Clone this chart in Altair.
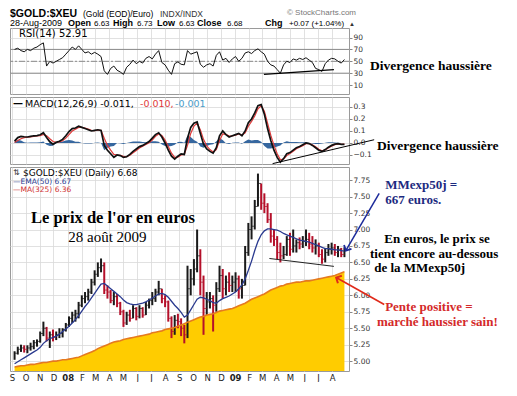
import altair as alt
import numpy as np
import pandas as pd

# ---------------- data (weekly readings) ----------------
weeks = pd.date_range("2007-09-07", "2009-08-28", freq="W-FRI")

price_high = [
    5.15, 5.22, 5.25, 5.24, 5.24, 5.28, 5.32, 5.33, 5.45, 5.60, 5.52, 5.45, 5.48, 5.45, 5.50, 5.50, 5.58,
    5.68, 5.75, 5.78, 5.90,
    6.00, 6.05, 6.10, 6.25, 6.38,
    6.50, 6.56, 6.50, 6.15,
    6.08, 6.05, 6.02, 5.90,
    5.78, 5.75, 5.78, 5.85, 5.82,
    5.85, 5.82, 5.90, 5.95,
    6.05, 6.10, 6.22, 6.10,
    6.00, 5.92, 5.68, 5.70, 5.72,
    5.65, 5.55, 6.45, 6.40,
    6.55, 7.00, 6.70, 6.30, 6.05,
    6.05, 6.00, 6.20, 6.45,
    6.40, 6.30, 6.35, 6.30,
    6.35, 6.30, 6.25, 6.75, 7.10,
    7.20, 7.45, 7.85, 7.70,
    7.55, 7.40, 7.25, 7.00,
    6.90, 6.80, 6.75, 6.90,
    6.95, 7.00, 6.85, 6.88, 6.90,
    7.00, 6.95, 6.90, 6.85,
    6.80, 6.70, 6.72, 6.78, 6.80,
    6.78, 6.75, 6.72, 6.73,
]
price_low = [
    5.02, 5.10, 5.14, 5.13, 5.12, 5.16, 5.18, 5.22, 5.28, 5.38, 5.30, 5.20, 5.30, 5.32, 5.35, 5.36, 5.45,
    5.52, 5.58, 5.60, 5.65,
    5.82, 5.88, 5.92, 6.02, 6.15,
    6.28, 6.35, 6.02, 5.95,
    5.88, 5.85, 5.82, 5.70,
    5.52, 5.55, 5.60, 5.65, 5.62,
    5.65, 5.66, 5.70, 5.80,
    5.85, 5.90, 6.00, 5.88,
    5.82, 5.60, 5.35, 5.40, 5.50,
    5.38, 5.27, 5.35, 6.00,
    6.15, 6.35, 6.00, 5.40, 5.70,
    5.80, 5.45, 5.75, 6.05,
    5.95, 6.00, 6.05, 6.05,
    6.05, 5.95, 5.95, 6.15, 6.60,
    6.85, 7.00, 7.35, 7.30,
    7.25, 7.10, 6.80, 6.75,
    6.55, 6.50, 6.55, 6.60,
    6.60, 6.65, 6.65, 6.70, 6.72,
    6.75, 6.70, 6.65, 6.62,
    6.58, 6.48, 6.50, 6.60, 6.62,
    6.60, 6.58, 6.58, 6.58,
]
price_close = [
    5.12, 5.18, 5.20, 5.18, 5.20, 5.22, 5.28, 5.30, 5.42, 5.50, 5.35, 5.40, 5.36, 5.40, 5.42, 5.48, 5.55,
    5.65, 5.70, 5.72, 5.85,
    5.95, 5.98, 6.05, 6.20, 6.32,
    6.42, 6.45, 6.08, 6.05,
    5.92, 5.98, 5.88, 5.75,
    5.58, 5.70, 5.65, 5.80, 5.68,
    5.80, 5.70, 5.85, 5.92,
    5.95, 6.05, 6.10, 5.95,
    5.90, 5.65, 5.45, 5.62, 5.60,
    5.50, 5.40, 6.10, 6.25,
    6.40, 6.60, 6.20, 5.80, 5.90,
    5.95, 5.85, 6.10, 6.30,
    6.10, 6.20, 6.15, 6.20,
    6.25, 6.10, 6.15, 6.65, 7.00,
    7.05, 7.35, 7.70, 7.40,
    7.35, 7.15, 6.90, 6.85,
    6.65, 6.60, 6.62, 6.85,
    6.70, 6.75, 6.80, 6.78, 6.82,
    6.85, 6.78, 6.72, 6.75,
    6.62, 6.55, 6.65, 6.70, 6.72,
    6.65, 6.70, 6.62, 6.68,
]
ema50 = [
    4.96, 4.99, 5.02, 5.05, 5.08, 5.11, 5.14, 5.17, 5.21, 5.27, 5.31, 5.34, 5.36, 5.38, 5.41, 5.45, 5.49,
    5.53, 5.58, 5.63, 5.69,
    5.76, 5.83, 5.89, 5.96, 6.03,
    6.10, 6.17, 6.18, 6.14,
    6.10, 6.06, 6.02, 5.98,
    5.93, 5.89, 5.87, 5.86, 5.86,
    5.87, 5.88, 5.90, 5.93,
    5.96, 5.99, 6.02, 6.03,
    6.01, 5.97, 5.91, 5.85, 5.80,
    5.74, 5.67, 5.70, 5.78,
    5.86, 5.94, 5.97, 5.96, 5.94,
    5.92, 5.89, 5.88, 5.92,
    5.95, 5.97, 5.99, 6.02,
    6.05, 6.10, 6.16, 6.25, 6.38,
    6.52, 6.68, 6.82, 6.92,
    6.98, 7.01, 7.01, 7.00,
    6.99, 6.97, 6.94, 6.92,
    6.90, 6.88, 6.86, 6.84, 6.83,
    6.82, 6.81, 6.79, 6.77,
    6.75, 6.73, 6.71, 6.71, 6.70,
    6.69, 6.69, 6.68, 6.67,
]
ma325 = [
    4.91, 4.92, 4.93, 4.93, 4.94, 4.95, 4.95, 4.96, 4.97, 4.98, 4.98, 4.99, 5.00, 5.00, 5.01, 5.02, 5.02,
    5.03, 5.04, 5.05, 5.06,
    5.08, 5.10, 5.12, 5.14, 5.16,
    5.19, 5.21, 5.23, 5.25,
    5.27, 5.29, 5.30, 5.31,
    5.33, 5.34, 5.35, 5.36, 5.37,
    5.38, 5.39, 5.40, 5.41,
    5.43, 5.44, 5.45, 5.46,
    5.48, 5.49, 5.50, 5.51, 5.53,
    5.55, 5.57, 5.59, 5.61,
    5.63, 5.65, 5.67, 5.68, 5.70,
    5.71, 5.72, 5.74, 5.76,
    5.77, 5.78, 5.79, 5.80,
    5.82, 5.84, 5.86, 5.88, 5.91,
    5.94, 5.96, 5.98, 6.00,
    6.02, 6.05, 6.08, 6.10,
    6.12, 6.14, 6.15, 6.17,
    6.18, 6.19, 6.20, 6.20, 6.21,
    6.22, 6.22, 6.23, 6.24,
    6.25, 6.26, 6.27, 6.28, 6.29,
    6.30, 6.32, 6.34, 6.36,
]
rsi14 = [
    70, 72, 68, 66, 70, 68, 72, 74, 78, 81, 42, 50, 47, 50, 53, 56, 62,
    68, 74, 70, 76,
    70, 64, 66, 62, 65,
    62, 58, 34, 28,
    38, 42, 35, 32,
    28, 40, 45, 52, 46,
    50, 47, 55, 58,
    54, 62, 68, 48,
    44, 35, 28, 46, 49,
    45, 44, 68, 62,
    64, 66, 45, 40, 44,
    46, 42, 60, 66,
    52, 55, 48, 54,
    58, 50, 55, 64, 66,
    63, 68, 71, 66,
    62, 50, 44, 42,
    36, 30, 44, 50,
    48, 54, 52, 55, 53,
    56, 52, 48, 38,
    36, 33, 46, 52, 55,
    54, 50, 47, 53,
]
macd_line = [
    0.015, 0.045, 0.055, 0.052, 0.050, 0.055, 0.060, 0.062, 0.068, 0.085, 0.045, 0.010, -0.010, 0.005, 0.015, 0.030, 0.060,
    0.095, 0.120, 0.125, 0.140,
    0.130, 0.120, 0.110, 0.100, 0.105,
    0.110, 0.105, -0.020, -0.060,
    -0.090, -0.120, -0.100, -0.105,
    -0.120, -0.115, -0.095, -0.070, -0.050,
    -0.030, -0.020, -0.005, 0.012,
    0.040, 0.070, 0.085, 0.050,
    0.000, -0.060, -0.110, -0.135, -0.110,
    -0.090, -0.095, 0.040, 0.130,
    0.165, 0.175, 0.080, -0.010, -0.050,
    -0.070, -0.085, -0.040, 0.060,
    0.100, 0.070, 0.050, 0.060,
    0.070, 0.080, 0.060, 0.100, 0.170,
    0.200, 0.250, 0.310, 0.320,
    0.240, 0.120, 0.020, -0.060,
    -0.120, -0.160, -0.130, -0.090,
    -0.080, -0.060, -0.040, -0.030, -0.015,
    0.000, -0.005, -0.020, -0.040,
    -0.060, -0.070, -0.055, -0.035, -0.020,
    -0.010, -0.005, -0.012, -0.011,
]
macd_signal = [
    0.005, 0.020, 0.035, 0.045, 0.048, 0.050, 0.055, 0.058, 0.062, 0.072, 0.060, 0.035, 0.012, 0.005, 0.008, 0.018, 0.040,
    0.070, 0.100, 0.115, 0.130,
    0.130, 0.125, 0.115, 0.105, 0.103,
    0.106, 0.106, 0.040, -0.020,
    -0.060, -0.095, -0.100, -0.102,
    -0.112, -0.114, -0.102, -0.082, -0.062,
    -0.042, -0.028, -0.012, 0.002,
    0.025, 0.055, 0.075, 0.062,
    0.025, -0.030, -0.085, -0.120, -0.118,
    -0.100, -0.096, -0.020, 0.080,
    0.140, 0.165, 0.110, 0.030, -0.025,
    -0.055, -0.075, -0.055, 0.020,
    0.075, 0.072, 0.058, 0.058,
    0.065, 0.075, 0.066, 0.085, 0.140,
    0.180, 0.225, 0.285, 0.310,
    0.265, 0.165, 0.065, -0.020,
    -0.090, -0.140, -0.135, -0.105,
    -0.088, -0.068, -0.048, -0.036, -0.022,
    -0.006, -0.005, -0.015, -0.032,
    -0.052, -0.065, -0.058, -0.042, -0.026,
    -0.015, -0.008, -0.011, -0.010,
]

rsi_levels_solid = [70, 30]
rsi_levels_dash = [50]

# trend lines and arrows drawn on the chart (date, value)
rsi_trend = pd.DataFrame({"date": pd.to_datetime(["2009-03-05", "2009-08-05"]), "value": [28, 36]})
macd_trend = pd.DataFrame({"date": pd.to_datetime(["2009-03-24", "2009-11-01"]), "value": [-0.172, 0.027]})
price_trend = pd.DataFrame({"date": pd.to_datetime(["2009-03-17", "2009-08-05"]), "value": [6.56, 6.44]})
blue_arrow = pd.DataFrame({"date": pd.to_datetime(["2009-11-12", "2009-08-31"]), "value": [7.55, 6.68]})
red_arrow = pd.DataFrame({"date": pd.to_datetime(["2009-11-23", "2009-08-10"]), "value": [5.86, 6.27]})

rsi_notes = pd.DataFrame({"date": pd.to_datetime(["2009-10-23"]), "value": [42.2],
                          "text": ["Divergence haussière"], "color": ["#000000"]})
macd_notes = pd.DataFrame({"date": pd.to_datetime(["2009-11-07"]), "value": [-0.022],
                           "text": ["Divergence haussière"], "color": ["#000000"]})
price_notes = pd.DataFrame({
    "date": pd.to_datetime(["2009-11-25", "2009-11-25", "2009-11-23", "2009-10-23",
                            "2009-11-01", "2009-11-25", "2009-11-07"]),
    "value": [7.67, 7.45, 6.85, 6.635, 6.415, 5.82, 5.60],
    "text": ["MMexp50j =", "667 euros.", "En euros, le prix se", "tient encore au-dessous",
             "de la MMexp50j", "Pente positive =", "marché haussier sain!"],
    "color": ["#1c2a80", "#1c2a80", "#000000", "#000000", "#000000", "#d42a2a", "#d42a2a"],
})
title_notes = pd.DataFrame({"date": pd.to_datetime(["2008-04-09"]), "value": [7.17],
                            "text": ["Le prix de l'or en euros"]})
date_notes = pd.DataFrame({"date": pd.to_datetime(["2008-03-28"]), "value": [6.89],
                           "text": ["28 août 2009"]})

df = pd.DataFrame({
    "date": weeks, "high": price_high, "low": price_low, "close": price_close,
    "ema": ema50, "ma": ma325, "rsi": rsi14, "macd": macd_line, "signal": macd_signal,
})
df["hist"] = df["macd"] - df["signal"]
prev = df["close"].shift(1).fillna(df["close"].iloc[0] - 0.01)
df["dir"] = np.where(df["close"] >= prev, "up", "down")

# ---------------- scales / axes ----------------
W = 339
month_ticks = [alt.DateTime(year=2007 + (8 + i) // 12, month=(8 + i) % 12 + 1, date=1) for i in range(24)]
xs = alt.Scale(domain=[alt.DateTime(year=2007, month=8, date=28), alt.DateTime(year=2009, month=9, date=7)])


def X(labels=False, field="date:T"):
    return alt.X(field, scale=xs, title=None, axis=alt.Axis(
        values=month_ticks, labels=labels, ticks=False, domain=False, grid=True,
        labelExpr="month(datum.value) == 0 ? timeFormat(datum.value, '%y') : substring(timeFormat(datum.value, '%b'), 0, 1)",
        labelFontWeight={"condition": {"test": "month(datum.value) == 0", "value": "bold"}, "value": "normal"},
        labelFontSize=8.5, labelColor="#222222", labelPadding=2, labelFlush=False, labelOverlap=False,
    ))


def Yax(field, domain, values, fmt):
    return alt.Y(field, title=None, scale=alt.Scale(domain=domain, nice=False, zero=False),
                 axis=alt.Axis(orient="right", values=values, format=fmt, tickSize=3, labelPadding=1,
                               domain=False, grid=True))


one = pd.DataFrame({"k": [0]})


def txt(s, x, y, size, weight="normal", color="#000000", font="Liberation Sans", align="left",
        baseline="alphabetic"):
    return alt.Chart(one).mark_text(font=font, fontSize=size, fontWeight=weight, color=color,
                                    align=align, baseline=baseline).encode(
        x=alt.value(x), y=alt.value(y), text=alt.value(s))


CHEVRON = "M-1,1L0,0L1,1"
SERIF = "Liberation Serif"
MONO = "DejaVu Sans"

# ---------------- RSI panel ----------------
RSI_DOM = [-5, 106]
RSI_VALS = [10, 30, 50, 70, 90]
rY = lambda f: Yax(f, RSI_DOM, RSI_VALS, "d")

L1, L2 = -11, -2.5
rsi_base = alt.Chart(df)
rsi_panel = alt.layer(
    alt.Chart(pd.DataFrame({"lvl": rsi_levels_solid})).mark_rule(color="#8a8a8a", strokeWidth=1).encode(y=rY("lvl:Q")),
    alt.Chart(pd.DataFrame({"lvl": rsi_levels_dash})).mark_rule(color="#8a8a8a", strokeWidth=1,
                                                                strokeDash=[6, 2, 2, 2]).encode(y=rY("lvl:Q")),
    rsi_base.mark_line(color="#111111", strokeWidth=1).encode(x=X(), y=rY("rsi:Q")),
    alt.Chart(rsi_trend).mark_line(color="#000000", strokeWidth=1.2).encode(x=X(), y=rY("value:Q")),
    alt.Chart(rsi_notes).mark_text(font=SERIF, fontSize=13.5, fontWeight="bold", align="left").encode(
        x=X(), y=rY("value:Q"), text="text:N", color=alt.Color("color:N", scale=None)),
    # header
    txt("$GOLD:$XEU", 0, L1, 10.5, "bold"),
    txt("(Gold (EOD)/Euro)", 73, L1, 8.5),
    txt("INDX/INDX", 150, L1, 8.5, color="#333333"),
    txt("© StockCharts.com", 346, -13, 8, color="#777777", align="right"),
    txt("28-Aug-2009", 0, L2, 9),
    txt("Open", 58, L2, 9, "bold"), txt("6.63", 84, L2, 8),
    txt("High", 103, L2, 9, "bold"), txt("6.73", 127, L2, 8),
    txt("Low", 147, L2, 9, "bold"), txt("6.63", 169, L2, 8),
    txt("Close", 187, L2, 9, "bold"), txt("6.68", 217, L2, 8),
    txt("Chg", 255, L2, 9, "bold"), txt("+0.07 (+1.04%)", 279, L2, 8),
    txt("▲", 339, L2, 6, color="#333333"),
    txt("RSI(14) 52.91", 9, 1, 10, font=MONO, baseline="top"),
).properties(width=W, height=66)

# ---------------- MACD panel ----------------
MACD_DOM = [-0.175, 0.383]
MACD_VALS = [-0.1, 0.0, 0.1, 0.2, 0.3]
mY = lambda f: Yax(f, MACD_DOM, MACD_VALS, ".1f")

macd_base = alt.Chart(df)
macd_panel = alt.layer(
    macd_base.mark_area(color="#36679f", opacity=1).encode(x=X(), y=mY("hist:Q"), y2=alt.datum(0)),
    macd_base.mark_line(color="#e03a3a", strokeWidth=1.2).encode(x=X(), y=mY("signal:Q")),
    macd_base.mark_line(color="#111111", strokeWidth=1.7).encode(x=X(), y=mY("macd:Q")),
    alt.Chart(macd_trend).mark_line(color="#000000", strokeWidth=1).encode(x=X(), y=mY("value:Q")),
    alt.Chart(macd_notes).mark_text(font=SERIF, fontSize=13.5, fontWeight="bold", align="left").encode(
        x=X(), y=mY("value:Q"), text="text:N", color=alt.Color("color:N", scale=None)),
    txt("—", 3, 1.5, 10, "bold", font=MONO, baseline="top"),
    txt("MACD(12,26,9) -0.011,", 15, 1.5, 9.5, font=MONO, baseline="top"),
    txt("-0.010,", 130, 1.5, 9.5, color="#e03a3a", font=MONO, baseline="top"),
    txt("-0.001", 165, 1.5, 9.5, color="#4a9cc7", font=MONO, baseline="top"),
).properties(width=W, height=67)

# ---------------- price panel ----------------
P_DOM = [4.85, 7.95]
P_VALS = [5.0, 5.25, 5.5, 5.75, 6.0, 6.25, 6.5, 6.75, 7.0, 7.25, 7.5, 7.75]
pY = lambda f: Yax(f, P_DOM, P_VALS, ".2f")

bar_colors = alt.Color("dir:N", scale=alt.Scale(domain=["up", "down"], range=["#1a1a1a", "#b5102a"]),
                       legend=None)
pb = alt.Chart(df)
price_panel = alt.layer(
    pb.mark_area(color="#FFCC00", opacity=1).encode(x=X(True), y=pY("ma:Q"), y2=alt.datum(4.85)),
    pb.mark_rule(strokeWidth=2).encode(x=X(True), y=pY("low:Q"), y2="high:Q", color=bar_colors),
    pb.mark_tick(orient="horizontal", size=3, thickness=1, xOffset=1.5).encode(
        x=X(True), y=pY("close:Q"), color=bar_colors),
    pb.mark_line(color="#E57A1F", strokeWidth=1.6).encode(x=X(True), y=pY("ma:Q")),
    pb.mark_line(color="#2A3A8F", strokeWidth=1.3).encode(x=X(True), y=pY("ema:Q")),
    alt.Chart(price_trend).mark_line(color="#222222", strokeWidth=1).encode(x=X(True), y=pY("value:Q")),
    alt.Chart(blue_arrow).mark_line(color="#1c2a9a", strokeWidth=1.5).encode(x=X(True), y=pY("value:Q")),
    alt.Chart(blue_arrow.iloc[[1]]).mark_point(shape=CHEVRON, filled=False, size=70, angle=208,
                                                strokeWidth=1.8, color="#1c2a9a", opacity=1).encode(
        x=X(True), y=pY("value:Q")),
    alt.Chart(red_arrow).mark_line(color="#e02a1a", strokeWidth=1.6).encode(x=X(True), y=pY("value:Q")),
    alt.Chart(red_arrow.iloc[[1]]).mark_point(shape=CHEVRON, filled=False, size=70, angle=298,
                                               strokeWidth=2, color="#e02a1a", opacity=1).encode(
        x=X(True), y=pY("value:Q")),
    alt.Chart(price_notes).mark_text(font=SERIF, fontSize=13, fontWeight="bold", align="left").encode(
        x=X(True), y=pY("value:Q"), text="text:N", color=alt.Color("color:N", scale=None)),
    alt.Chart(title_notes).mark_text(font=SERIF, fontSize=16.5, fontWeight="bold", align="center").encode(
        x=X(True), y=pY("value:Q"), text="text:N"),
    alt.Chart(date_notes).mark_text(font=SERIF, fontSize=15, align="center").encode(
        x=X(True), y=pY("value:Q"), text="text:N"),
    txt("⇅", 3, 1.5, 8, font=MONO, baseline="top", color="#333333"),
    txt("$GOLD:$XEU (Daily) 6.68", 13, 1.5, 9, font=MONO, baseline="top"),
    txt("—EMA(50) 6.67", 3, 10.5, 7.5, font=MONO, baseline="top", color="#2A3A8F"),
    txt("—MA(325) 6.36", 3, 18.5, 7.5, font=MONO, baseline="top", color="#d03030"),
).properties(width=W, height=204)

chart = alt.vconcat(rsi_panel, macd_panel, price_panel, spacing=3, bounds="flush").properties(
    padding={"left": 0, "top": 0, "right": 0, "bottom": 0}
).configure_view(
    stroke="#9a9a9a", strokeWidth=1
).configure_axis(
    labelFont="DejaVu Sans", labelFontSize=7.5, labelColor="#333333",
    gridColor="#d9d9d9", gridWidth=0.8, tickColor="#888888", domain=False,
)

chart.save("out.html", embed_options={"renderer": "svg", "actions": False})
